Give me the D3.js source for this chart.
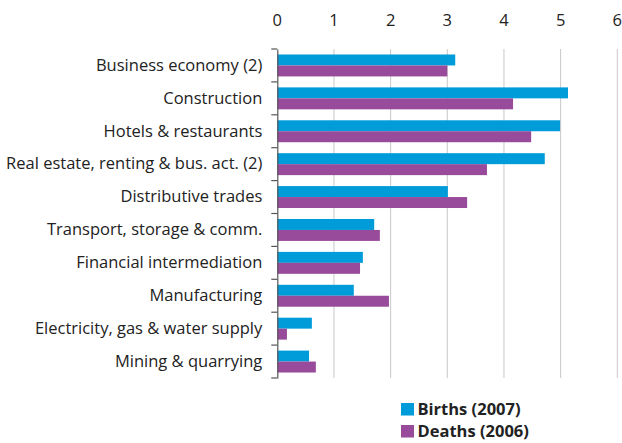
<!DOCTYPE html>
<html>
<head>
<meta charset="utf-8">
<script src="https://cdn.jsdelivr.net/npm/d3@7"></script>
<style>
  body { margin: 0; background: #fff; }
  svg text { font-family: "Open Sans", "Noto Sans", sans-serif; fill: #222; }
</style>
</head>
<body>
<div id="chart"></div>
<script>
const categories = [
    "Business economy (2)",
    "Construction",
    "Hotels & restaurants",
    "Real estate, renting & bus. act. (2)",
    "Distributive trades",
    "Transport, storage & comm.",
    "Financial intermediation",
    "Manufacturing",
    "Electricity, gas & water supply",
    "Mining & quarrying"
];
const births2007 = [3.14, 5.13, 4.99, 4.72, 3.01, 1.71, 1.51, 1.35, 0.61, 0.56];
const deaths2006 = [3.0, 4.16, 4.48, 3.70, 3.35, 1.81, 1.46, 1.97, 0.17, 0.68];
const xTicks = [0, 1, 2, 3, 4, 5, 6];
const seriesNames = ["Births (2007)", "Deaths (2006)"];
const seriesColors = ["#009cda", "#984a9b"];

const width = 622, height = 443;
const margin = {top: 49, right: 5, bottom: 65, left: 277.3};

const svg = d3.select("#chart").append("svg")
    .attr("width", width)
    .attr("height", height);

const x = d3.scaleLinear()
    .domain([0, 6])
    .range([margin.left, 617.3]);

const y = d3.scaleBand()
    .domain(categories)
    .range([margin.top, height - margin.bottom]);

const inner = d3.scaleBand()
    .domain(seriesNames)
    .range([0, y.bandwidth()])
    .paddingOuter(0.5);

// gridlines
svg.append("g")
    .selectAll("line")
    .data(xTicks.filter(d => d > 0))
    .enter().append("line")
    .attr("x1", d => x(d))
    .attr("x2", d => x(d))
    .attr("y1", margin.top)
    .attr("y2", height - margin.bottom)
    .attr("stroke", "#c8c8c8")
    .attr("stroke-width", 1);

// top tick labels
svg.append("g")
    .selectAll("text")
    .data(xTicks)
    .enter().append("text")
    .attr("x", d => x(d))
    .attr("y", 26)
    .attr("text-anchor", "middle")
    .attr("font-size", "16.5px")
    .text(d => d);

// bars
const rows = categories.map((c, i) => ({cat: c, vals: [births2007[i], deaths2006[i]]}));
const groups = svg.append("g")
    .selectAll("g")
    .data(rows)
    .enter().append("g")
    .attr("transform", d => `translate(0,${y(d.cat)})`);

groups.selectAll("rect")
    .data(d => d.vals.map((v, k) => ({name: seriesNames[k], v: v, k: k})))
    .enter().append("rect")
    .attr("x", x(0))
    .attr("y", d => inner(d.name))
    .attr("width", d => x(d.v) - x(0))
    .attr("height", inner.bandwidth())
    .attr("fill", d => seriesColors[d.k]);

// left axis
const yAxis = d3.axisLeft(y).tickSize(0).tickPadding(15);
const ax = svg.append("g")
    .attr("transform", `translate(${x(0)},0)`)
    .call(yAxis);
ax.select(".domain").attr("stroke", "#555").attr("stroke-width", 1.2);
ax.selectAll("text")
    .attr("font-size", "16.5px")
    .attr("fill", "#222");

// category boundary ticks
svg.append("g")
    .selectAll("line")
    .data(categories.map(c => y(c)).concat([y.range()[1]]))
    .enter().append("line")
    .attr("x1", x(0) - 6)
    .attr("x2", x(0))
    .attr("y1", d => d)
    .attr("y2", d => d)
    .attr("stroke", "#555")
    .attr("stroke-width", 1.2);

// legend (nudged up slightly so the second row is not clipped)
const legend = svg.append("g")
    .selectAll("g")
    .data(seriesNames)
    .enter().append("g")
    .attr("transform", (d, i) => `translate(401,${403 + i * 22})`);
legend.append("rect")
    .attr("width", 13)
    .attr("height", 12.5)
    .attr("fill", (d, i) => seriesColors[i]);
legend.append("text")
    .attr("x", 16.5)
    .attr("y", 12.3)
    .attr("font-size", "16.5px")
    .attr("font-weight", "bold")
    .text(d => d);
</script>
</body>
</html>
